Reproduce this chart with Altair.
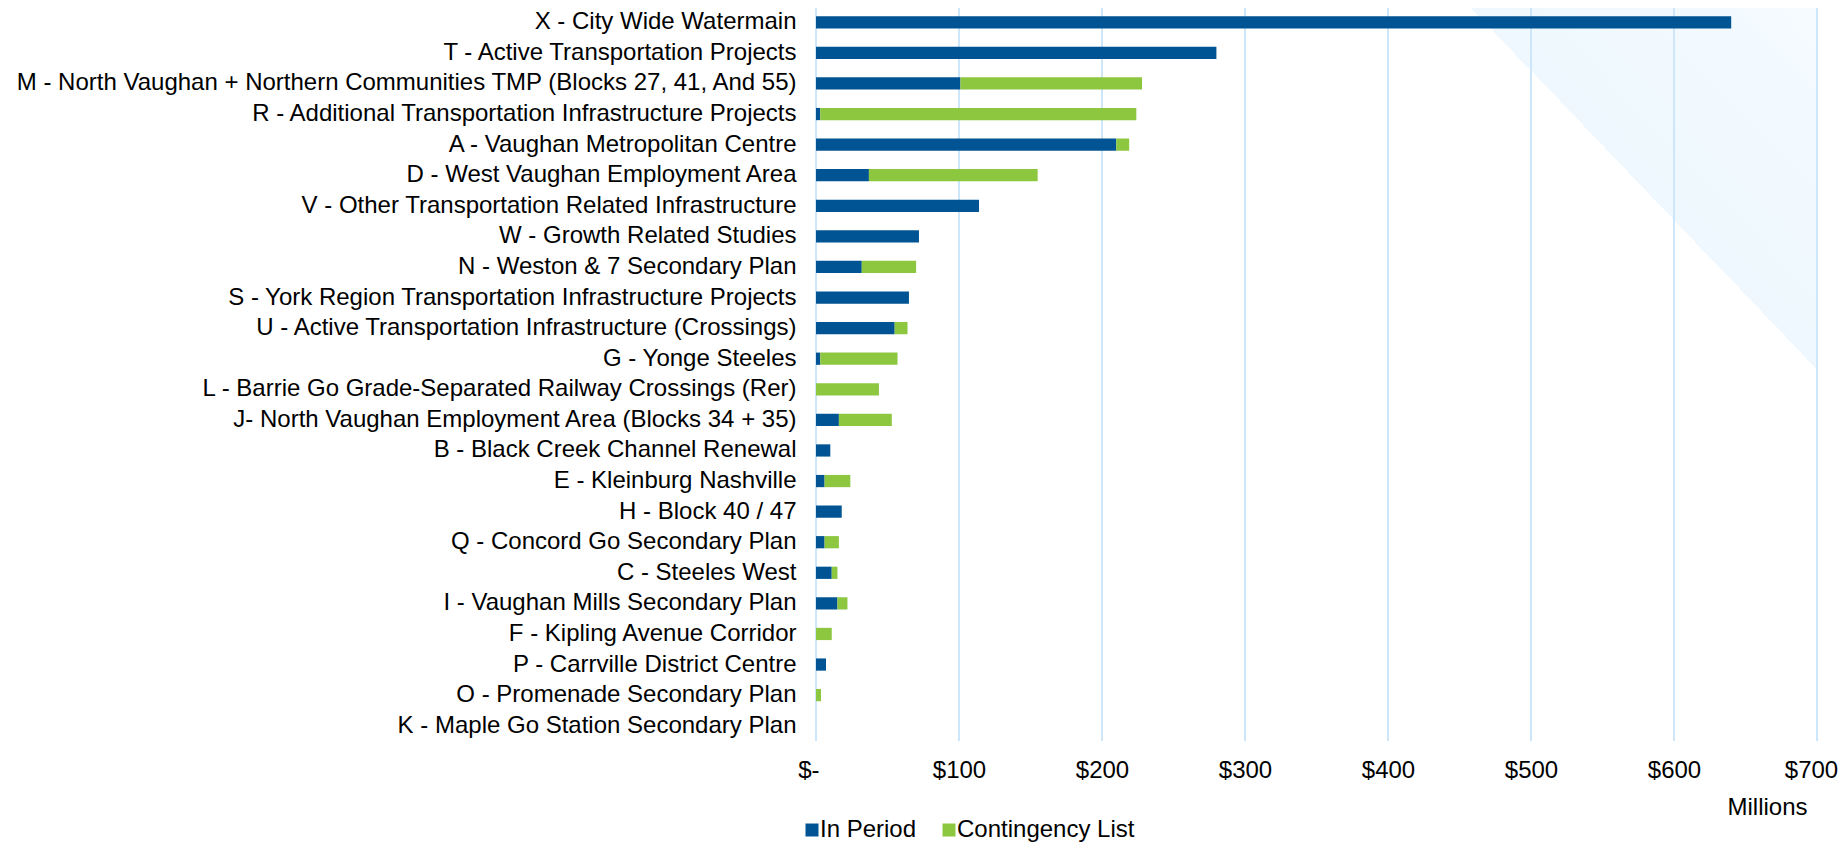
import altair as alt
import pandas as pd

CATEGORIES = [
    "X - City Wide Watermain",
    "T - Active Transportation Projects",
    "M - North Vaughan + Northern Communities TMP (Blocks 27, 41, And 55)",
    "R - Additional Transportation Infrastructure Projects",
    "A - Vaughan Metropolitan Centre",
    "D - West Vaughan Employment Area",
    "V - Other Transportation Related Infrastructure",
    "W - Growth Related Studies",
    "N - Weston & 7 Secondary Plan",
    "S - York Region Transportation Infrastructure Projects",
    "U - Active Transportation Infrastructure (Crossings)",
    "G - Yonge Steeles",
    "L - Barrie Go Grade-Separated Railway Crossings (Rer)",
    "J- North Vaughan Employment Area (Blocks 34 + 35)",
    "B - Black Creek Channel Renewal",
    "E - Kleinburg Nashville",
    "H - Block 40 / 47",
    "Q - Concord Go Secondary Plan",
    "C - Steeles West",
    "I - Vaughan Mills Secondary Plan",
    "F - Kipling Avenue Corridor",
    "P - Carrville District Centre",
    "O - Promenade Secondary Plan",
    "K - Maple Go Station Secondary Plan",
]
IN_PERIOD = [640, 280, 101, 3, 210, 37, 114, 72, 32, 65, 55, 3, 0, 16, 10, 6, 18, 6, 11, 15, 0, 7, 0, 0]
CONTINGENCY = [0, 0, 127, 221, 9, 118, 0, 0, 38, 0, 9, 54, 44, 37, 0, 18, 0, 10, 4, 7, 11, 0, 3.5, 0]
SERIES = ["In Period", "Contingency List"]
COLORS = ["#005493", "#8DC63F"]
TICK_VALUES = [0, 100, 200, 300, 400, 500, 600, 700]
TICK_LABELS = ["$-", "$100", "$200", "$300", "$400", "$500", "$600", "$700"]
AXIS_TITLE = "Millions"

rows = []
for cat, a, b in zip(CATEGORIES, IN_PERIOD, CONTINGENCY):
    rows.append({"cat": cat, "series": SERIES[0], "value": a, "ord": 0})
    rows.append({"cat": cat, "series": SERIES[1], "value": b, "ord": 1})
df = pd.DataFrame(rows)
grid_df = pd.DataFrame({"value": TICK_VALUES})

label_expr = "''"
for v, lab in reversed(list(zip(TICK_VALUES, TICK_LABELS))):
    label_expr = f"datum.value == {v} ? '{lab}' : ({label_expr})"

FONT = "Liberation Sans"
W, H = 1001, 734
LAST = TICK_VALUES[-1]

gradient = alt.LinearGradient(
    gradient="linear",
    x1=0.4145, y1=0.1535, x2=0.8789, y2=-0.1725,
    stops=[
        alt.GradientStop(offset=0, color="#ffffff"),
        alt.GradientStop(offset=0.5, color="#ffffff"),
        alt.GradientStop(offset=0.5, color="#EEF8FE"),
        alt.GradientStop(offset=1, color="#F5FBFF"),
    ],
)

bg = alt.Chart(alt.Data(values=[{"k": 1}])).mark_rect(fill=gradient, strokeWidth=0).encode(
    x=alt.value(0), x2=alt.value("width"), y=alt.value(0), y2=alt.value("height")
)

xscale = alt.Scale(domain=[0, LAST], nice=False, zero=True)

grid = alt.Chart(grid_df).mark_rule(color="#CDE6FA", strokeWidth=2).encode(
    x=alt.X("value:Q", scale=xscale)
)

bars = alt.Chart(df).mark_bar().encode(
    x=alt.X(
        "value:Q",
        stack="zero",
        scale=xscale,
        axis=alt.Axis(
            values=TICK_VALUES,
            labelExpr=label_expr,
            labelFlush=False,
            labelAlign=alt.ConditionalAxisLabelAlign(
                condition={"test": "datum.value == 0", "value": "right"}, value="center"
            ),
            labelOffset=alt.ConditionalAxisNumber(
                condition=[
                    {"test": "datum.value == 0", "value": 3},
                    {"test": f"datum.value == {LAST}", "value": -6},
                ],
                value=0,
            ),
            title=AXIS_TITLE,
            grid=False,
            domain=False,
            ticks=False,
            tickSize=0,
            labelFontSize=24,
            labelPadding=29,
            labelBaseline="middle",
            labelColor="#000000",
            titleX=991,
            titleY=66,
            titleAlign="right",
            titleBaseline="middle",
            titleFontSize=24,
            titleFontWeight="normal",
            titleColor="#000000",
        ),
    ),
    y=alt.Y(
        "cat:N",
        sort=CATEGORIES,
        scale=alt.Scale(paddingInner=0.6, paddingOuter=0.3),
        axis=alt.Axis(
            title=None,
            labelFontSize=24,
            labelLimit=1000,
            labelPadding=20,
            labelColor="#000000",
            domain=False,
            ticks=False,
            grid=False,
        ),
    ),
    color=alt.Color(
        "series:N",
        scale=alt.Scale(domain=SERIES, range=COLORS),
        legend=alt.Legend(
            orient="none",
            legendX=-16,
            legendY=811,
            direction="horizontal",
            title=None,
            symbolType="square",
            symbolSize=169,
            symbolStrokeWidth=0,
            labelFontSize=24,
            labelLimit=600,
            labelColor="#000000",
            columnPadding=20,
            labelOffset={"expr": "-4"},
            padding=0,
        ),
    ),
    order=alt.Order("ord:Q"),
)

chart = alt.layer(bg, grid, bars).properties(
    width=W,
    height=H,
    padding={"left": 808, "top": -1, "right": 22, "bottom": 101},
    autosize=alt.AutoSizeParams(type="none"),
).configure(font=FONT).configure_view(stroke=None)

chart.save("out.html", embed_options={"renderer": "svg", "actions": False})
